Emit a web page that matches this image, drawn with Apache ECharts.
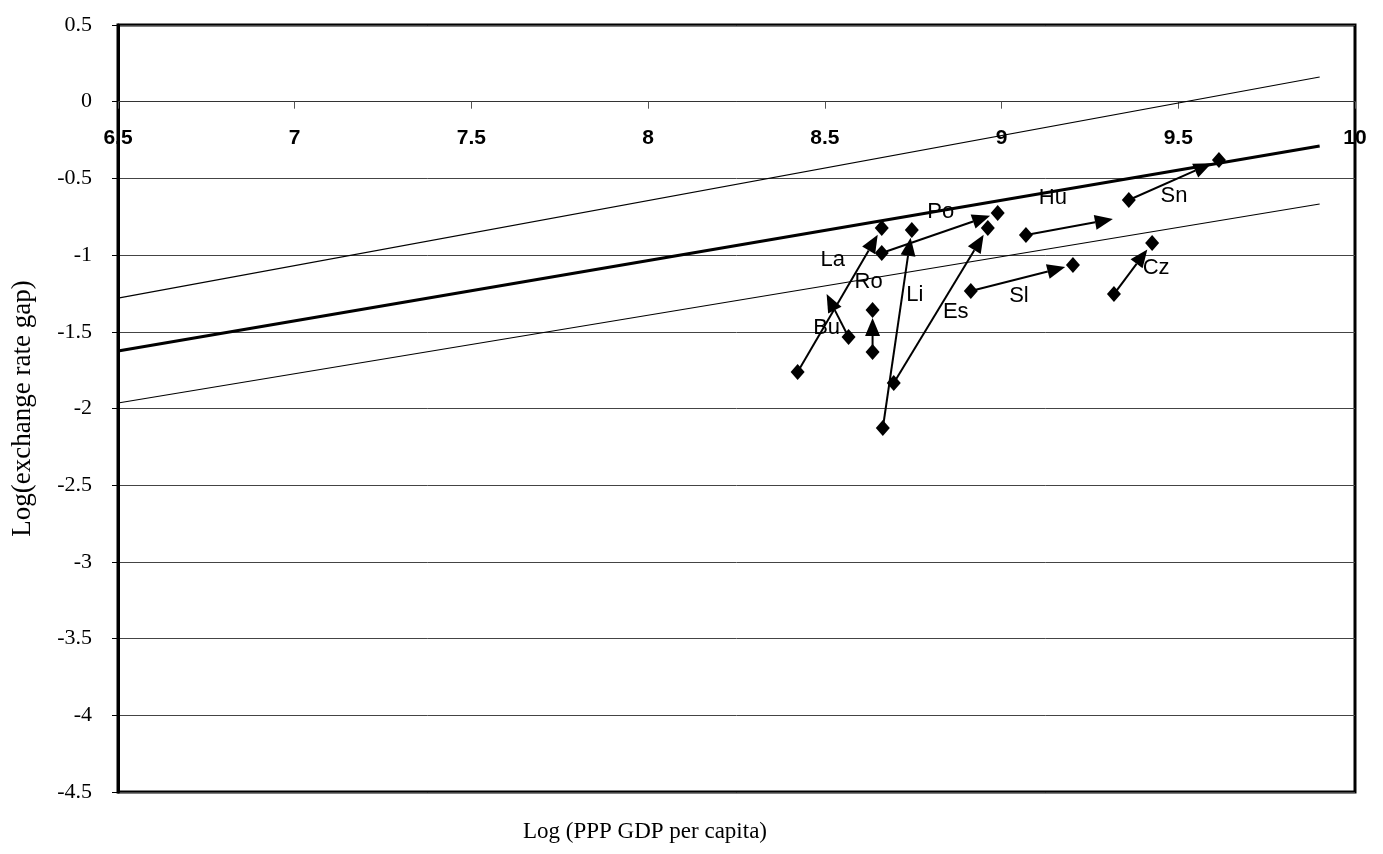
<!DOCTYPE html>
<html>
<head>
<meta charset="utf-8">
<script src="https://cdn.jsdelivr.net/npm/echarts@6/dist/echarts.min.js"></script>
<style>
  html, body { margin: 0; padding: 0; background: #ffffff; }
  #chart { width: 1383px; height: 854px; }
</style>
</head>
<body>
<div id="chart"></div>
<script>
// ---------------- DATA ----------------
const countries = ['Bu', 'La', 'Ro', 'Li', 'Es', 'Po', 'Hu', 'Sl', 'Cz', 'Sn'];
const startX = [8.567, 8.423, 8.635, 8.664, 8.695, 8.661, 9.069, 8.913, 9.318, 9.360];
const startY = [-1.534, -1.762, -1.632, -2.127, -1.834, -0.986, -0.869, -1.234, -1.254, -0.641];
const endX   = [8.505, 8.661, 8.635, 8.746, 8.961, 8.989, 9.315, 9.202, 9.426, 9.615];
const endY   = [-1.254, -0.823, -1.358, -0.836, -0.823, -0.726, -0.765, -1.065, -0.921, -0.380];

// reference lines (end points)
const bandX   = [6.5, 9.9];
const centerY = [-1.625, -0.289];
const upperY  = [-1.28, 0.161];
const lowerY  = [-1.964, -0.667];

const xTicks = { min: 6.5, max: 10, step: 0.5 };
const yTicks = { min: -4.5, max: 0.5, step: 0.5 };

// ---------------- STYLE ----------------
const HIDE_END = ['Hu', 'Bu'];
const LABEL_OFFSET = {
  Bu: [0, 34], La: [-49, 32], Ro: [-4, -28], Li: [3, 65], Es: [-32, 84],
  Po: [-57, -1], Hu: [-60, -21], Sl: [-54, 31], Cz: [4, 25], Sn: [-45, 36]
};
const ST = { gap: 8, headLen: 18, headW: 15, dW: 14, dH: 16 };
const GRID = { left: 118, right: 28, top: 25, bottom: 62 };
const CH = 854;
const plotH = CH - GRID.top - GRID.bottom;
const zeroFromBottom = plotH * (0 - yTicks.min) / (yTicks.max - yTicks.min);

function diamond(p) {
  return [[p[0], p[1] - ST.dH / 2], [p[0] + ST.dW / 2, p[1]], [p[0], p[1] + ST.dH / 2], [p[0] - ST.dW / 2, p[1]]];
}

const chart = echarts.init(document.getElementById('chart'));
const arrowData = countries.map((c, i) => [startX[i], startY[i], endX[i], endY[i]]);

const option = {
  backgroundColor: '#ffffff',
  animation: false,
  grid: { left: GRID.left, right: GRID.right, top: GRID.top, bottom: GRID.bottom, show: true, borderColor: '#000', borderWidth: 3 },
  xAxis: {
    type: 'value', min: xTicks.min, max: xTicks.max, interval: xTicks.step,
    position: 'bottom', offset: -zeroFromBottom,
    axisLine: { show: true, onZero: false, lineStyle: { color: '#333', width: 1 } },
    axisTick: { show: true, length: 7, lineStyle: { color: '#555' } },
    axisLabel: { margin: 26, color: '#000', fontFamily: 'Liberation Sans', fontWeight: 'bold', fontSize: 21, showMinLabel: true, showMaxLabel: true },
    splitLine: { show: false }
  },
  yAxis: {
    type: 'value', min: yTicks.min, max: yTicks.max, interval: yTicks.step,
    name: 'Log(exchange rate gap)', nameLocation: 'middle', nameGap: 82, nameRotate: 90,
    nameTextStyle: { fontFamily: 'Liberation Serif', fontSize: 27, color: '#000' },
    axisLine: { show: true, lineStyle: { color: '#000', width: 3 } },
    axisTick: { show: true, length: 6, lineStyle: { color: '#000' } },
    axisLabel: { margin: 26, color: '#000', fontFamily: 'Liberation Serif', fontSize: 22 },
    splitLine: { show: true, lineStyle: { color: '#444', width: 1 } }
  },
  graphic: [{
    type: 'text', x: 645, y: 832,
    style: { text: 'Log (PPP GDP per capita)', fill: '#000', font: '23px "Liberation Serif"', textAlign: 'center', textVerticalAlign: 'middle' }
  }],
  series: [
    { type: 'line', data: bandX.map((x, i) => [x, upperY[i]]), symbol: 'none', lineStyle: { color: '#000', width: 1.2 }, z: 2 },
    { type: 'line', data: bandX.map((x, i) => [x, centerY[i]]), symbol: 'none', lineStyle: { color: '#000', width: 3.2 }, z: 2 },
    { type: 'line', data: bandX.map((x, i) => [x, lowerY[i]]), symbol: 'none', lineStyle: { color: '#000', width: 1.2 }, z: 2 },
    {
      type: 'custom', z: 5,
      data: arrowData,
      encode: { x: [0, 2], y: [1, 3] },
      renderItem: function (params, api) {
        const i = params.dataIndex;
        const name = countries[i];
        const p1 = api.coord([api.value(0), api.value(1)]);
        const p2 = api.coord([api.value(2), api.value(3)]);
        const dx = p2[0] - p1[0], dy = p2[1] - p1[1];
        const L = Math.hypot(dx, dy) || 1;
        const ux = dx / L, uy = dy / L;
        const hidden = HIDE_END.indexOf(name) >= 0;
        const gap = hidden ? 0 : ST.gap;
        const tip = [p2[0] - ux * gap, p2[1] - uy * gap];
        const base = [tip[0] - ux * ST.headLen, tip[1] - uy * ST.headLen];
        const px = -uy, py = ux;
        const left = [base[0] + px * ST.headW / 2, base[1] + py * ST.headW / 2];
        const right = [base[0] - px * ST.headW / 2, base[1] - py * ST.headW / 2];
        const off = LABEL_OFFSET[name] || [0, 0];
        const children = [
          { type: 'line', shape: { x1: p1[0], y1: p1[1], x2: base[0], y2: base[1] }, style: { stroke: '#000', lineWidth: 2 } },
          { type: 'polygon', shape: { points: [tip, left, right] }, style: { fill: '#000' } },
          { type: 'polygon', shape: { points: diamond(p1) }, style: { fill: '#000' } }
        ];
        if (!hidden) children.push({ type: 'polygon', shape: { points: diamond(p2) }, style: { fill: '#000' } });
        children.push({
          type: 'text', x: p2[0] + off[0], y: p2[1] + off[1],
          style: { text: name, fill: '#000', font: '22px "Liberation Sans"', textAlign: 'center', textVerticalAlign: 'middle' }
        });
        return { type: 'group', children: children };
      }
    }
  ]
};
chart.setOption(option);
</script>
</body>
</html>
